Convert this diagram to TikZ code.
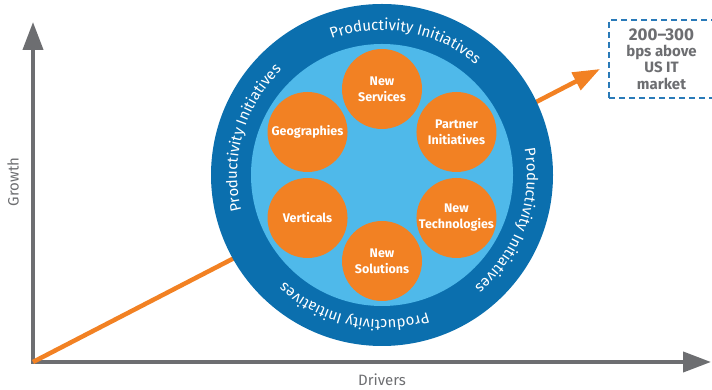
\documentclass[tikz,border=0pt]{standalone}
\usepackage{fontspec}
\setmainfont{Fira Sans}
\usetikzlibrary{arrows.meta,decorations.text,calc}
\definecolor{axisgray}{HTML}{6D6E71}
\definecolor{ringblue}{HTML}{0B6FAE}
\definecolor{innerblue}{HTML}{4FB9EA}
\definecolor{orng}{HTML}{F28123}
\definecolor{boxblue}{HTML}{2A7AB8}
\newcommand{\ringfont}{\fontsize{15}{15}\selectfont}
\tikzset{
  axisline/.style={draw=axisgray, line width=4pt, line join=miter,
    {Triangle[length=28pt,width=20pt]}-{Triangle[length=28pt,width=20pt]}},
  axislabel/.style={text=axisgray, font=\fontsize{15}{15}\selectfont, inner sep=0pt},
  growline/.style={draw=orng, line width=4.5pt, -{Triangle[length=27pt,width=19pt]}},
  driver/.style={circle, fill=orng, minimum size=80pt, inner sep=0pt, text=white,
    align=center, font=\bfseries\fontsize{12.5}{16}\selectfont},
  ringtext/.style={decorate, decoration={text along path, text align=center,
    text color=white, text={|\ringfont|Productivity Initiatives}}},
  targetbox/.style={draw=boxblue, line width=1.5pt, dash pattern=on 6pt off 4pt,
    minimum width=105pt, minimum height=78pt, inner sep=0pt, align=center,
    text=axisgray, font=\bfseries\fontsize{15}{16.3}\selectfont}
}
\begin{document}
\begin{tikzpicture}[x=1pt,y=1pt]
\useasboundingbox (0,0) rectangle (712,390);
\coordinate (O) at (33,28);
\coordinate (ytip) at (33,368);
\coordinate (xtip) at (711,28);
\coordinate (C) at (382,215);
\coordinate (gtip) at (600,321);
% axes
\draw[axisline] (ytip) -- (O) -- (xtip);
\node[axislabel, rotate=90] (growth) at (13,208) {Growth};
\node[axislabel] (drivers) at (382,10) {Drivers};
% growth arrow
\draw[growline] (O) -- (gtip);
% rings
\fill[ringblue] (C) circle[radius=171];
\fill[innerblue] (C) circle[radius=131];
\path[ringtext] ($(C)+(130:145)$) arc[start angle=130, end angle=30, radius=145];
\path[ringtext] ($(C)+(214:145)$) arc[start angle=214, end angle=114, radius=145];
\path[ringtext] ($(C)+(30:145)$) arc[start angle=30, end angle=-70, radius=145];
\path[ringtext] ($(C)+(-52:145)$) arc[start angle=-52, end angle=-152, radius=145];
% drivers
\node[driver] (serv) at ($(C)+(90:86)$) {New\\Services};
\node[driver] (part) at ($(C)+(30:86)$) {Partner\\Initiatives};
\node[driver] (tech) at ($(C)+(-30:86)$) {New\\Technologies};
\node[driver] (sol) at ($(C)+(-90:86)$) {New\\Solutions};
\node[driver] (vert) at ($(C)+(210:86)$) {Verticals};
\node[driver] (geo) at ($(C)+(150:86)$) {Geographies};
% target box
\node[targetbox] (target) at (661.5,331) {{\fontsize{17}{16.3}\selectfont 200–300}\\bps above\\US IT\\market};
\end{tikzpicture}
\end{document}
